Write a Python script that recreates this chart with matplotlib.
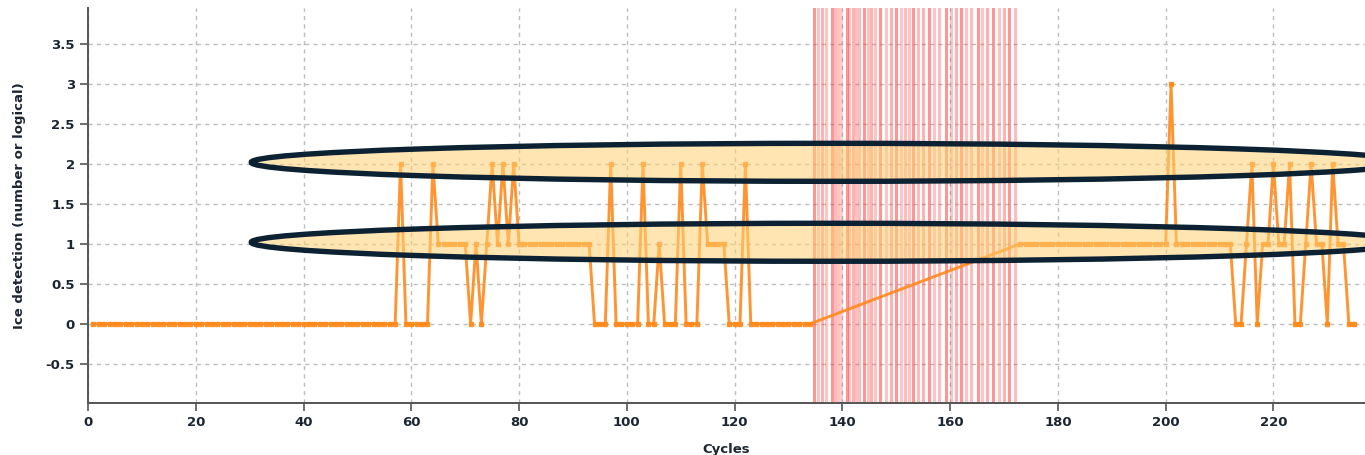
import matplotlib
matplotlib.use("Agg")
import matplotlib.pyplot as plt
from matplotlib.patches import Ellipse
from matplotlib.ticker import FuncFormatter

plt.rcParams["font.family"] = ["DejaVu Sans"]
plt.rcParams["axes.unicode_minus"] = False

# ----------------------------------------
# Data
# ----------------------------------------
# cycles 1..134
ice_first = [
    0, 0, 0, 0, 0, 0, 0, 0, 0, 0,
    0, 0, 0, 0, 0, 0, 0, 0, 0, 0,
    0, 0, 0, 0, 0, 0, 0, 0, 0, 0,
    0, 0, 0, 0, 0, 0, 0, 0, 0, 0,
    0, 0, 0, 0, 0, 0, 0, 0, 0, 0,
    0, 0, 0, 0, 0, 0, 0, 2, 0, 0,
    0, 0, 0, 2, 1, 1, 1, 1, 1, 1,
    0, 1, 0, 1, 2, 1, 2, 1, 2, 1,
    1, 1, 1, 1, 1, 1, 1, 1, 1, 1,
    1, 1, 1, 0, 0, 0, 2, 0, 0, 0,
    0, 0, 2, 0, 0, 1, 0, 0, 0, 2,
    0, 0, 0, 2, 1, 1, 1, 1, 0, 0,
    0, 2, 0, 0, 0, 0, 0, 0, 0, 0,
    0, 0, 0, 0,
]
# cycles 173..235
ice_second = [
    1, 1, 1, 1, 1, 1, 1, 1, 1, 1,
    1, 1, 1, 1, 1, 1, 1, 1, 1, 1,
    1, 1, 1, 1, 1, 1, 1, 1,
    3,
    1, 1, 1, 1, 1, 1, 1, 1, 1, 1, 1,
    0, 0, 1, 2, 0, 1, 1, 2, 1, 1, 2, 0,
    0, 1, 2, 1, 1, 0, 2, 1, 1, 0, 0,
]
cycles = list(range(1, 135)) + list(range(173, 236))
ice = ice_first + ice_second

# missing cycles, marked in red
gap_marks = [
    134.8, 135.4, 136.2, 137.0, 138.0, 138.6, 139.1, 139.8, 140.9, 141.3,
    141.9, 142.5, 143.1, 144.0, 144.7, 145.3, 146.1, 147.0, 148.1, 149.0,
    150.0, 150.9, 151.7, 152.4, 153.2, 154.0, 155.0, 156.0, 157.1, 158.0,
    159.2, 160.1, 161.1, 162.1, 162.9, 163.9, 165.1, 166.0, 166.9, 168.0,
    169.1, 170.0, 170.9, 172.0,
]
gap_alpha = [
    0.55, 0.3, 0.4, 0.3, 0.55, 0.35, 0.3, 0.25, 0.55, 0.3,
    0.4, 0.3, 0.35, 0.55, 0.3, 0.4, 0.3, 0.55, 0.3, 0.4,
    0.55, 0.3, 0.35, 0.3, 0.55, 0.35, 0.4, 0.55, 0.3, 0.35,
    0.55, 0.3, 0.4, 0.55, 0.3, 0.35, 0.55, 0.3, 0.4, 0.55,
    0.3, 0.4, 0.55, 0.35,
]

# highlighted bands (annotation ellipses)
band_levels = [2.02, 1.02]

yticks = [-0.5, 0, 0.5, 1, 1.5, 2, 2.5, 3, 3.5]
xticks = list(range(0, 240, 20))

TEXT = "#1c2633"
ORANGE = "#ff8a1c"

# ----------------------------------------
fig = plt.figure(figsize=(13.65, 4.55), dpi=100)
ax = fig.add_axes([0.0645, 0.1143, 0.9355, 0.8681])

for xm, al in zip(gap_marks, gap_alpha):
    ax.axvline(xm, color="#ff4040", alpha=al, lw=2.2, zorder=1)

ax.plot(cycles, ice, color=ORANGE, lw=2.1, marker="s", ms=3.4,
        alpha=0.9, zorder=3)

for lvl in band_levels:
    ax.add_patch(Ellipse((137.6, lvl), 214.6, 0.475,
                         facecolor=(1.0, 0.82, 0.45, 0.55),
                         edgecolor="#0c2233", lw=3.9, zorder=4))

ax.set_xlim(0, 237)
ax.set_ylim(-0.99, 3.95)
ax.set_xticks(xticks)
ax.set_yticks(yticks)
ax.yaxis.set_major_formatter(FuncFormatter(lambda v, p: f"{v:g}"))

ax.grid(True, color="#bdbdbd", ls=(0, (3, 3)), lw=1.0, zorder=0)
ax.set_axisbelow(True)

for s in ["top", "right"]:
    ax.spines[s].set_visible(False)
for s in ["left", "bottom"]:
    ax.spines[s].set_color("#555555")
    ax.spines[s].set_linewidth(1.4)

ax.tick_params(axis="both", direction="out", length=6, width=1.2,
               color="#555555", labelcolor=TEXT, labelsize=9.5)
for lab in ax.get_xticklabels() + ax.get_yticklabels():
    lab.set_fontweight("bold")

ax.set_xlabel("Cycles", fontsize=9.5, fontweight="bold", color=TEXT,
              labelpad=10)
ax.set_ylabel("Ice detection (number or logical)", fontsize=9.5,
              fontweight="bold", color=TEXT, labelpad=14)

fig.savefig("out.png", dpi=100)
